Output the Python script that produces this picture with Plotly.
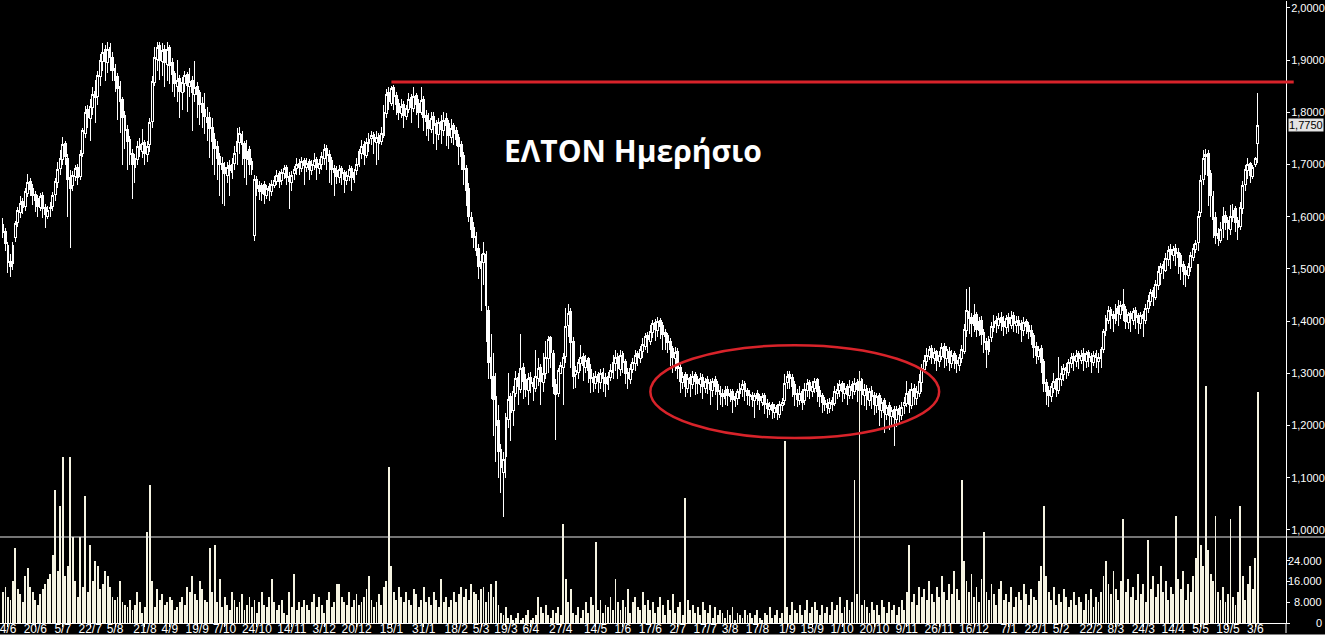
import plotly.graph_objects as go

# ---------------- data ----------------
open_ = [
1.585,1.572,1.545,1.515,1.510,1.560,1.590,1.608,1.630,1.620,
1.645,1.668,1.655,1.642,1.635,1.618,1.640,1.618,1.600,1.615,
1.620,1.642,1.665,1.692,1.710,1.740,1.712,1.675,1.660,1.678,
1.695,1.678,1.722,1.760,1.805,1.788,1.810,1.840,1.830,1.868,
1.898,1.920,1.895,1.925,1.905,1.885,1.868,1.850,1.825,1.795,
1.768,1.748,1.722,1.695,1.710,1.738,1.725,1.742,1.720,1.738,
1.782,1.858,1.902,1.928,1.898,1.920,1.892,1.925,1.895,1.875,
1.850,1.865,1.838,1.855,1.872,1.850,1.862,1.835,1.850,1.838,
1.818,1.805,1.790,1.790,1.772,1.748,1.735,1.715,1.702,1.695,
1.680,1.698,1.685,1.702,1.725,1.742,1.758,1.740,1.710,1.728,
1.705,1.565,1.672,1.660,1.645,1.662,1.640,1.658,1.648,1.660,
1.668,1.682,1.670,1.682,1.695,1.678,1.665,1.682,1.692,1.702,
1.692,1.708,1.695,1.705,1.688,1.698,1.710,1.692,1.700,1.712,
1.730,1.720,1.708,1.692,1.688,1.675,1.692,1.685,1.670,1.678,
1.692,1.672,1.688,1.700,1.722,1.738,1.718,1.740,1.750,1.758,
1.742,1.755,1.745,1.755,1.798,1.838,1.818,1.848,1.832,1.818,
1.798,1.815,1.792,1.805,1.828,1.808,1.832,1.818,1.800,1.825,
1.795,1.785,1.768,1.792,1.778,1.758,1.782,1.765,1.788,1.778,
1.752,1.775,1.765,1.752,1.738,1.718,1.692,1.655,1.598,1.580,
1.562,1.540,1.500,1.512,1.528,1.420,1.330,1.295,1.255,1.210,
1.155,1.110,1.140,1.212,1.255,1.228,1.262,1.292,1.270,1.312,
1.288,1.268,1.292,1.282,1.272,1.290,1.312,1.282,1.300,1.328,
1.368,1.338,1.278,1.262,1.300,1.312,1.332,1.392,1.418,1.362,
1.298,1.302,1.318,1.332,1.312,1.328,1.308,1.292,1.280,1.298,
1.282,1.302,1.292,1.278,1.292,1.302,1.318,1.332,1.308,1.338,
1.322,1.302,1.288,1.308,1.318,1.338,1.328,1.342,1.352,1.372,
1.362,1.378,1.398,1.382,1.402,1.392,1.378,1.372,1.362,1.348,
1.328,1.342,1.312,1.282,1.298,1.272,1.292,1.278,1.298,1.288,
1.278,1.292,1.272,1.288,1.282,1.268,1.288,1.278,1.268,1.262,
1.252,1.270,1.255,1.265,1.248,1.252,1.262,1.270,1.280,1.268,
1.260,1.258,1.248,1.262,1.255,1.245,1.258,1.242,1.230,1.240,
1.225,1.238,1.222,1.238,1.248,1.282,1.298,1.292,1.278,1.262,
1.248,1.265,1.248,1.268,1.282,1.265,1.272,1.288,1.268,1.258,
1.248,1.242,1.232,1.248,1.242,1.262,1.268,1.280,1.262,1.275,
1.258,1.278,1.265,1.282,1.268,1.288,1.258,1.272,1.248,1.268,
1.258,1.238,1.258,1.228,1.248,1.222,1.238,1.218,1.230,1.212,
1.232,1.220,1.238,1.242,1.265,1.238,1.272,1.252,1.262,1.282,
1.308,1.322,1.332,1.348,1.328,1.342,1.322,1.332,1.352,1.328,
1.342,1.318,1.338,1.325,1.315,1.328,1.342,1.382,1.418,1.408,
1.392,1.412,1.382,1.402,1.378,1.362,1.342,1.368,1.388,1.402,
1.392,1.408,1.400,1.388,1.408,1.392,1.410,1.392,1.402,1.395,
1.382,1.400,1.392,1.382,1.372,1.352,1.332,1.348,1.322,1.282,
1.268,1.255,1.272,1.288,1.268,1.288,1.298,1.312,1.302,1.318,
1.332,1.322,1.338,1.325,1.338,1.322,1.340,1.332,1.320,1.338,
1.322,1.328,1.345,1.382,1.402,1.422,1.412,1.402,1.428,1.412,
1.432,1.422,1.398,1.415,1.402,1.420,1.410,1.395,1.412,1.402,
1.425,1.438,1.458,1.445,1.468,1.492,1.508,1.498,1.518,1.538,
1.525,1.540,1.532,1.525,1.508,1.498,1.488,1.502,1.522,1.538,
1.550,1.608,1.672,1.715,1.722,1.682,1.638,1.598,1.568,1.555,
1.578,1.602,1.592,1.575,1.598,1.615,1.592,1.582,1.615,1.662,
1.688,1.702,1.678,1.700,1.740]

high = [
1.598,1.578,1.552,1.528,1.552,1.592,1.618,1.640,1.636,1.655,
1.682,1.675,1.662,1.650,1.642,1.645,1.648,1.625,1.620,1.628,
1.648,1.675,1.705,1.728,1.752,1.745,1.720,1.690,1.688,1.700,
1.702,1.728,1.770,1.812,1.815,1.825,1.848,1.862,1.880,1.912,
1.932,1.930,1.935,1.933,1.915,1.892,1.875,1.860,1.830,1.802,
1.775,1.755,1.730,1.720,1.745,1.750,1.768,1.748,1.745,1.790,
1.870,1.925,1.935,1.935,1.932,1.930,1.934,1.930,1.905,1.880,
1.900,1.872,1.868,1.880,1.878,1.885,1.870,1.898,1.858,1.842,
1.830,1.838,1.810,1.800,1.790,1.760,1.745,1.722,1.715,1.705,
1.705,1.708,1.712,1.735,1.770,1.772,1.765,1.745,1.748,1.735,
1.712,1.680,1.678,1.668,1.665,1.668,1.660,1.665,1.670,1.678,
1.690,1.688,1.692,1.700,1.700,1.685,1.688,1.698,1.712,1.710,
1.715,1.712,1.712,1.710,1.708,1.722,1.715,1.710,1.725,1.740,
1.738,1.728,1.715,1.700,1.698,1.700,1.698,1.690,1.688,1.700,
1.698,1.692,1.712,1.730,1.748,1.745,1.750,1.760,1.765,1.762,
1.765,1.760,1.772,1.815,1.845,1.848,1.850,1.852,1.840,1.825,
1.825,1.822,1.815,1.838,1.835,1.848,1.838,1.825,1.848,1.832,
1.805,1.798,1.800,1.800,1.785,1.790,1.795,1.800,1.798,1.785,
1.788,1.780,1.772,1.758,1.745,1.725,1.700,1.665,1.610,1.590,
1.570,1.548,1.528,1.552,1.535,1.430,1.375,1.340,1.300,1.240,
1.165,1.150,1.225,1.300,1.262,1.275,1.305,1.300,1.375,1.320,
1.298,1.300,1.302,1.292,1.345,1.330,1.318,1.340,1.362,1.372,
1.372,1.345,1.290,1.310,1.322,1.340,1.425,1.432,1.425,1.370,
1.315,1.328,1.355,1.340,1.335,1.332,1.318,1.300,1.305,1.302,
1.308,1.310,1.300,1.302,1.318,1.335,1.345,1.340,1.345,1.342,
1.328,1.310,1.318,1.330,1.345,1.342,1.352,1.368,1.378,1.380,
1.392,1.402,1.405,1.408,1.406,1.398,1.385,1.378,1.368,1.352,
1.350,1.348,1.318,1.302,1.302,1.298,1.298,1.305,1.302,1.295,
1.300,1.298,1.292,1.295,1.290,1.292,1.295,1.285,1.275,1.270,
1.275,1.275,1.270,1.270,1.262,1.270,1.282,1.288,1.285,1.272,
1.268,1.265,1.262,1.268,1.260,1.262,1.262,1.250,1.245,1.245,
1.242,1.242,1.248,1.252,1.298,1.305,1.305,1.298,1.285,1.270,
1.275,1.270,1.282,1.290,1.288,1.285,1.292,1.292,1.275,1.262,
1.255,1.250,1.252,1.255,1.275,1.282,1.288,1.285,1.282,1.280,
1.288,1.285,1.292,1.290,1.305,1.292,1.280,1.278,1.272,1.275,
1.265,1.262,1.262,1.252,1.252,1.240,1.245,1.235,1.238,1.238,
1.240,1.245,1.255,1.285,1.270,1.282,1.280,1.275,1.298,1.318,
1.335,1.348,1.352,1.355,1.348,1.345,1.342,1.358,1.358,1.352,
1.350,1.345,1.342,1.335,1.338,1.355,1.395,1.462,1.465,1.415,
1.432,1.418,1.408,1.410,1.385,1.368,1.372,1.398,1.412,1.410,
1.415,1.418,1.410,1.412,1.415,1.420,1.418,1.410,1.410,1.402,
1.408,1.405,1.398,1.392,1.378,1.360,1.352,1.355,1.328,1.290,
1.275,1.282,1.300,1.292,1.332,1.315,1.318,1.320,1.328,1.340,
1.340,1.345,1.342,1.345,1.348,1.342,1.345,1.340,1.342,1.345,
1.340,1.350,1.385,1.412,1.430,1.428,1.420,1.432,1.440,1.438,
1.462,1.430,1.418,1.420,1.425,1.428,1.415,1.418,1.420,1.432,
1.450,1.462,1.465,1.478,1.505,1.512,1.515,1.530,1.545,1.548,
1.545,1.548,1.540,1.530,1.515,1.505,1.512,1.532,1.548,1.555,
1.612,1.680,1.728,1.730,1.728,1.690,1.650,1.610,1.578,1.590,
1.618,1.612,1.600,1.622,1.625,1.620,1.600,1.628,1.668,1.700,
1.712,1.705,1.700,1.715,1.837]

low = [
1.560,1.535,1.492,1.485,1.498,1.552,1.580,1.598,1.605,1.612,
1.638,1.640,1.622,1.610,1.600,1.612,1.598,1.578,1.595,1.600,
1.612,1.630,1.655,1.680,1.700,1.700,1.600,1.540,1.650,1.668,
1.660,1.670,1.715,1.750,1.770,1.745,1.795,1.780,1.815,1.850,
1.880,1.860,1.875,1.880,1.860,1.840,1.785,1.760,1.700,1.730,
1.690,1.700,1.635,1.665,1.700,1.715,1.712,1.700,1.705,1.725,
1.770,1.850,1.880,1.862,1.870,1.848,1.860,1.855,1.840,1.830,
1.820,1.790,1.805,1.840,1.800,1.830,1.765,1.820,1.790,1.775,
1.770,1.758,1.745,1.712,1.700,1.680,1.670,1.640,1.625,1.620,
1.665,1.640,1.672,1.690,1.700,1.720,1.700,1.675,1.660,1.680,
1.680,1.553,1.640,1.632,1.630,1.625,1.635,1.630,1.640,1.655,
1.660,1.655,1.660,1.672,1.660,1.615,1.650,1.670,1.680,1.680,
1.685,1.660,1.685,1.670,1.680,1.690,1.670,1.682,1.690,1.700,
1.690,1.665,1.660,1.640,1.662,1.665,1.660,1.645,1.660,1.668,
1.650,1.665,1.680,1.695,1.710,1.700,1.712,1.725,1.738,1.720,
1.700,1.708,1.738,1.750,1.790,1.805,1.812,1.805,1.795,1.785,
1.790,1.770,1.785,1.798,1.780,1.800,1.795,1.770,1.795,1.765,
1.755,1.745,1.760,1.740,1.728,1.748,1.740,1.755,1.735,1.730,
1.742,1.738,1.735,1.700,1.690,1.660,1.620,1.590,1.560,1.540,
1.525,1.480,1.420,1.470,1.360,1.290,1.250,1.180,1.130,1.100,
1.070,1.025,1.100,1.195,1.170,1.200,1.255,1.240,1.262,1.250,
1.255,1.240,1.262,1.248,1.265,1.275,1.240,1.265,1.290,1.300,
1.310,1.260,1.172,1.255,1.300,1.240,1.320,1.370,1.310,1.270,
1.272,1.290,1.305,1.285,1.300,1.282,1.262,1.265,1.270,1.262,
1.270,1.265,1.255,1.268,1.285,1.290,1.305,1.290,1.295,1.300,
1.280,1.270,1.280,1.300,1.305,1.315,1.320,1.330,1.345,1.340,
1.355,1.368,1.362,1.370,1.365,1.345,1.345,1.340,1.315,1.300,
1.305,1.290,1.262,1.270,1.255,1.262,1.255,1.270,1.258,1.260,
1.262,1.250,1.262,1.260,1.240,1.255,1.258,1.230,1.240,1.235,
1.240,1.238,1.245,1.225,1.235,1.240,1.250,1.255,1.248,1.240,
1.238,1.235,1.215,1.240,1.230,1.238,1.222,1.215,1.220,1.212,
1.215,1.210,1.215,1.228,1.240,1.270,1.270,1.255,1.238,1.235,
1.240,1.230,1.240,1.255,1.250,1.255,1.262,1.245,1.235,1.225,
1.228,1.222,1.225,1.228,1.238,1.250,1.255,1.245,1.250,1.240,
1.250,1.250,1.258,1.245,1.262,1.240,1.238,1.230,1.238,1.232,
1.220,1.225,1.200,1.215,1.185,1.210,1.192,1.200,1.160,1.198,
1.205,1.210,1.222,1.235,1.225,1.232,1.240,1.240,1.255,1.265,
1.300,1.315,1.325,1.318,1.318,1.305,1.312,1.325,1.310,1.315,
1.305,1.310,1.308,1.300,1.305,1.320,1.338,1.370,1.375,1.370,
1.380,1.370,1.372,1.355,1.340,1.310,1.335,1.360,1.380,1.378,
1.385,1.382,1.372,1.375,1.380,1.385,1.380,1.378,1.375,1.360,
1.372,1.375,1.365,1.355,1.330,1.318,1.325,1.300,1.265,1.240,
1.236,1.245,1.262,1.255,1.260,1.275,1.285,1.290,1.295,1.310,
1.305,1.312,1.308,1.318,1.305,1.310,1.312,1.300,1.315,1.310,
1.300,1.310,1.340,1.372,1.395,1.385,1.380,1.395,1.390,1.405,
1.400,1.385,1.385,1.380,1.392,1.385,1.375,1.385,1.370,1.395,
1.415,1.430,1.430,1.440,1.460,1.470,1.480,1.495,1.505,1.500,
1.515,1.505,1.490,1.478,1.470,1.465,1.480,1.495,1.515,1.530,
1.535,1.600,1.660,1.680,1.620,1.600,1.560,1.548,1.545,1.550,
1.560,1.575,1.555,1.565,1.590,1.570,1.555,1.575,1.605,1.650,
1.672,1.665,1.672,1.695,1.703]

close = [
1.570,1.548,1.512,1.505,1.545,1.588,1.612,1.625,1.618,1.648,
1.665,1.652,1.640,1.632,1.620,1.638,1.615,1.605,1.612,1.618,
1.640,1.668,1.690,1.712,1.738,1.715,1.672,1.655,1.680,1.692,
1.675,1.720,1.765,1.800,1.790,1.812,1.835,1.828,1.870,1.900,
1.915,1.898,1.920,1.905,1.880,1.862,1.845,1.820,1.790,1.765,
1.745,1.720,1.700,1.712,1.735,1.728,1.740,1.722,1.735,1.780,
1.860,1.905,1.925,1.900,1.918,1.895,1.920,1.890,1.872,1.855,
1.862,1.840,1.858,1.870,1.852,1.860,1.838,1.848,1.835,1.815,
1.800,1.792,1.780,1.770,1.745,1.730,1.712,1.700,1.690,1.682,
1.695,1.688,1.700,1.722,1.745,1.760,1.738,1.712,1.725,1.700,
1.690,1.672,1.655,1.648,1.660,1.642,1.655,1.650,1.662,1.670,
1.680,1.668,1.685,1.692,1.675,1.668,1.680,1.690,1.700,1.695,
1.705,1.698,1.702,1.690,1.700,1.708,1.695,1.702,1.715,1.728,
1.718,1.705,1.690,1.685,1.678,1.690,1.682,1.672,1.680,1.690,
1.675,1.685,1.700,1.725,1.735,1.720,1.742,1.748,1.755,1.745,
1.752,1.740,1.760,1.800,1.835,1.820,1.845,1.830,1.815,1.800,
1.812,1.795,1.808,1.825,1.810,1.830,1.815,1.800,1.822,1.790,
1.782,1.770,1.788,1.775,1.760,1.780,1.768,1.785,1.775,1.755,
1.770,1.760,1.748,1.735,1.715,1.690,1.650,1.600,1.575,1.560,
1.535,1.505,1.515,1.530,1.430,1.320,1.290,1.250,1.200,1.150,
1.120,1.135,1.215,1.250,1.225,1.265,1.290,1.275,1.310,1.285,
1.270,1.290,1.280,1.275,1.295,1.310,1.285,1.300,1.330,1.365,
1.340,1.275,1.260,1.305,1.315,1.330,1.390,1.415,1.360,1.295,
1.305,1.320,1.330,1.315,1.325,1.305,1.290,1.282,1.295,1.285,
1.300,1.290,1.280,1.295,1.305,1.320,1.330,1.310,1.335,1.320,
1.300,1.290,1.310,1.320,1.335,1.330,1.345,1.355,1.370,1.365,
1.380,1.395,1.385,1.400,1.390,1.375,1.370,1.360,1.345,1.330,
1.340,1.310,1.285,1.295,1.275,1.290,1.280,1.295,1.285,1.280,
1.290,1.275,1.285,1.280,1.270,1.285,1.275,1.265,1.260,1.255,
1.268,1.258,1.262,1.250,1.255,1.265,1.272,1.278,1.265,1.258,
1.255,1.250,1.258,1.252,1.248,1.255,1.240,1.232,1.238,1.228,
1.235,1.225,1.240,1.245,1.280,1.295,1.290,1.275,1.260,1.250,
1.262,1.245,1.270,1.280,1.268,1.275,1.285,1.265,1.255,1.245,
1.240,1.235,1.245,1.240,1.265,1.270,1.278,1.265,1.272,1.260,
1.275,1.268,1.280,1.270,1.285,1.260,1.270,1.250,1.265,1.255,
1.240,1.255,1.230,1.245,1.225,1.235,1.220,1.228,1.215,1.230,
1.222,1.235,1.245,1.262,1.240,1.270,1.255,1.265,1.285,1.310,
1.325,1.335,1.345,1.330,1.340,1.325,1.335,1.350,1.330,1.345,
1.320,1.335,1.325,1.318,1.330,1.345,1.385,1.420,1.405,1.395,
1.410,1.385,1.400,1.375,1.360,1.345,1.365,1.390,1.400,1.395,
1.405,1.398,1.390,1.405,1.395,1.408,1.395,1.400,1.392,1.385,
1.398,1.390,1.380,1.370,1.350,1.335,1.345,1.320,1.280,1.265,
1.258,1.275,1.285,1.270,1.290,1.300,1.310,1.305,1.320,1.330,
1.325,1.335,1.328,1.335,1.325,1.338,1.330,1.322,1.335,1.330,
1.330,1.345,1.380,1.405,1.420,1.410,1.405,1.425,1.415,1.430,
1.420,1.400,1.412,1.405,1.418,1.408,1.398,1.410,1.405,1.425,
1.440,1.455,1.448,1.470,1.495,1.505,1.500,1.520,1.535,1.528,
1.538,1.530,1.522,1.505,1.495,1.490,1.505,1.525,1.540,1.548,
1.600,1.670,1.712,1.720,1.680,1.640,1.595,1.565,1.558,1.575,
1.600,1.590,1.578,1.600,1.612,1.590,1.580,1.618,1.660,1.690,
1.700,1.680,1.695,1.712,1.775]

# volume in thousands of shares
volume_k = [
12,14,10,9,16,29,13,11,8,18,
21,14,12,9,7,11,13,15,17,19,
26,51,20,45,64,18,22,64,33,16,
10,33,14,49,12,30,16,24,22,13,
15,20,18,14,10,9,10,16,8,7,
6,9,5,7,12,8,4,6,35,53,
16,6,13,9,11,7,8,10,9,5,
6,8,10,7,14,12,18,11,9,16,
13,9,8,29,12,30,8,17,6,10,
7,5,12,9,6,8,11,5,7,10,
6,9,4,8,12,7,6,10,17,8,
5,7,9,4,3,12,6,19,5,8,
6,9,7,5,8,11,6,10,7,4,
9,12,6,8,15,15,10,8,7,12,
6,9,11,7,8,10,13,18,9,6,
8,11,7,14,16,60,22,12,9,14,
10,8,12,9,7,13,11,6,9,14,
8,10,7,12,9,6,17,8,10,6,
9,12,8,11,14,10,13,9,15,12,
11,9,13,14,8,12,15,10,16,7,
4,3,6,2,3,1,2,4,1,2,
3,5,1,2,3,10,6,4,7,3,
2,5,4,6,3,38,17,8,13,4,
3,6,2,5,8,4,10,7,31,5,
9,4,7,6,10,5,17,8,5,9,
6,13,4,8,10,6,5,12,7,9,
5,8,4,6,10,7,3,9,5,11,
4,6,8,3,48,9,5,7,4,6,
3,8,5,4,7,2,6,3,5,4,
2,5,3,6,1,4,3,2,5,3,
4,2,3,5,2,1,4,3,6,2,
3,5,2,4,70,6,3,8,5,4,
7,3,5,9,4,6,8,5,3,7,
4,6,3,8,5,7,10,4,6,9,
5,8,55,11,96,7,9,6,4,8,
5,7,3,9,6,4,8,5,7,3,
6,9,5,12,30,8,11,7,14,10,
13,9,16,11,8,14,10,18,12,9,
15,11,20,13,9,55,24,16,12,19,
10,14,8,17,35,12,9,15,11,7,
13,16,9,11,8,14,6,10,12,9,
15,11,7,13,10,9,16,22,45,18,
12,9,14,7,11,8,13,10,6,9,
12,7,10,8,5,11,9,13,6,10,
8,12,18,24,15,11,20,13,9,16,
40,12,17,10,14,9,19,11,15,8,
32,13,18,10,15,22,12,16,9,14,
11,41,17,13,20,9,15,12,18,25,
138,30,22,91,28,19,16,41,12,9,
14,8,11,40,10,7,12,45,18,9,
15,22,13,25,89]

# date labels on the time axis and the session they sit on
tick_labels = ["4/6","20/6","5/7","22/7","5/8","21/8","4/9","19/9","7/10","24/10",
               "14/11","3/12","20/12","15/1","31/1","18/2","5/3","19/3","6/4","27/4",
               "14/5","1/6","17/6","2/7","17/7","3/8","17/8","1/9","15/9","1/10",
               "20/10","9/11","26/11","16/12","7/1","22/1","5/2","22/2","8/3","24/3",
               "14/4","5/5","19/5","3/6"]
tick_index = [2,13,24,35,45,57,67,78,89,102,
              116,129,142,156,169,182,192,202,212,224,
              238,249,260,271,282,292,303,315,325,337,
              350,363,376,390,404,415,425,437,447,458,
              470,481,492,503]

price_ticks = [1.0,1.1,1.2,1.3,1.4,1.5,1.6,1.7,1.8,1.9,2.0]
price_tick_text = ["1,0000","1,1000","1,2000","1,3000","1,4000","1,5000",
                   "1,6000","1,7000","1,8000","1,9000","2,0000"]
volume_ticks = [0, 8000, 16000, 24000]
volume_tick_text = ["0", "8.000", "16.000", "24.000"]

last_price = 1.775
last_price_text = "1,7750"
resistance = 1.858
resistance_from = 156
zone_index = (260, 376)
zone_price = (1.176, 1.354)
title_text = "ΕΛΤΟΝ Ημερήσιο"

# ---------------- figure ----------------
idx = list(range(len(close)))
volume = [v * 1000 for v in volume_k]

W, H = 1325, 637
ML, MR, MT, MB = 0, 39, 1, 14
PLOT_H = H - MT - MB
x_range = [-1.2, 515.3]
price_range = [0.8218, 2.0134]
volume_range = [0, 239230]

FONT = "Liberation Sans"
RED = "#d8232a"

fig = go.Figure()

fig.add_trace(go.Bar(
    x=idx, y=volume, yaxis="y2", width=0.36,
    marker=dict(color="#f6f4e2", line=dict(width=0)),
    hoverinfo="skip", showlegend=False,
))

fig.add_trace(go.Candlestick(
    x=idx, open=open_, high=high, low=low, close=close,
    increasing=dict(line=dict(color="white", width=1), fillcolor="black"),
    decreasing=dict(line=dict(color="white", width=1), fillcolor="white"),
    whiskerwidth=0, showlegend=False,
))

span = x_range[1] - x_range[0]
shapes = [
    # resistance line
    dict(type="line", xref="paper", yref="y",
         x0=(resistance_from - x_range[0]) / span, x1=1.006,
         y0=resistance, y1=resistance, line=dict(color=RED, width=3)),
    # ellipse around the base
    dict(type="circle", xref="x", yref="y",
         x0=zone_index[0], x1=zone_index[1], y0=zone_price[0], y1=zone_price[1],
         line=dict(color=RED, width=2.5)),
    # panel separator between price and volume
    dict(type="line", xref="paper", yref="paper", x0=0, x1=1.04,
         y0=86 / PLOT_H, y1=86 / PLOT_H, line=dict(color="#e8e8e8", width=1)),
    # right axis line extension below the plot
    dict(type="line", xref="paper", yref="paper", x0=1, x1=1,
         y0=0, y1=-10 / PLOT_H, line=dict(color="white", width=1)),
    # white strip at the very bottom
    dict(type="rect", xref="paper", yref="paper", x0=-0.01, x1=1.05,
         y0=-11.5 / PLOT_H, y1=-15 / PLOT_H, line=dict(width=0), fillcolor="white",
         layer="below"),
]

annotations = [
    dict(text="<b>" + title_text + "</b>", xref="paper", yref="paper",
         x=633 / 1286, y=(623 - 150) / PLOT_H, xanchor="center", yanchor="middle",
         showarrow=False, font=dict(family="Open Sans", size=30, color="white")),
    dict(text=last_price_text, xref="paper", yref="y", x=1, xshift=2,
         y=last_price, xanchor="left", yanchor="middle", showarrow=False,
         bgcolor="#e4e4e4", borderpad=0,
         font=dict(family=FONT, size=11, color="black")),
]
for v, t in zip(volume_ticks, volume_tick_text):
    annotations.append(dict(text=t, xref="paper", yref="y2", x=1324 / 1286, y=v,
                            xanchor="right", yanchor="middle", showarrow=False,
                            font=dict(family=FONT, size=11, color="white")))

fig.update_layout(
    width=W, height=H,
    margin=dict(l=ML, r=MR, t=MT, b=MB, autoexpand=False),
    paper_bgcolor="black", plot_bgcolor="black",
    showlegend=False, bargap=0, boxgap=0.25, boxgroupgap=0,
    shapes=shapes, annotations=annotations,
    xaxis=dict(range=x_range, tickmode="array", tickvals=tick_index, ticktext=tick_labels,
               ticks="outside", ticklen=3, tickcolor="white", showgrid=False,
               zeroline=False, showline=True, linecolor="white", linewidth=1,
               tickfont=dict(family=FONT, size=12, color="white"),
               rangeslider=dict(visible=False), ticklabeloverflow="allow",
               ticklabelstandoff=-8, automargin=False),
    yaxis=dict(range=price_range, side="right", tickmode="array",
               tickvals=price_ticks, ticktext=price_tick_text,
               ticks="outside", ticklen=3, tickcolor="white", showgrid=False,
               zeroline=False, showline=True, linecolor="white", linewidth=1,
               tickfont=dict(family=FONT, size=11, color="white"),
               ticklabelstandoff=-1, automargin=False),
    yaxis2=dict(range=volume_range, overlaying="y", side="right", tickmode="array",
                tickvals=volume_ticks, showticklabels=False,
                ticks="outside", ticklen=3, tickcolor="white", showgrid=False,
                zeroline=False, showline=False, automargin=False),
)

fig.write_html("out.html",
               config={"displayModeBar": False},
               post_script="document.body.style.margin='0';"
                           "document.body.style.overflow='hidden';"
                           "document.querySelectorAll('.boxlayer path, .barlayer path')"
                           ".forEach(function(p){p.style.shapeRendering='crispEdges';});")
